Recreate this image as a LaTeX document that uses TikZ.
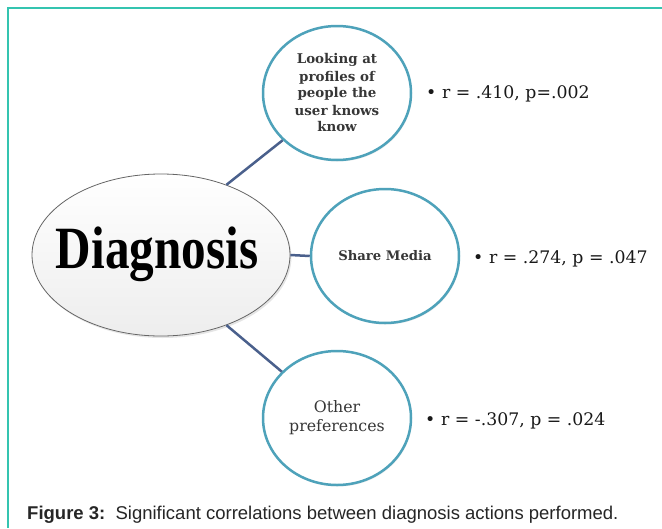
\documentclass[tikz,border=0pt]{standalone}
\usepackage{fontspec}
\setmainfont{Liberation Serif}
\newfontfamily\cfont{DejaVu Serif}
\newfontfamily\capfont{Liberation Sans}
\usetikzlibrary{shapes.geometric,shadows}
\definecolor{frameteal}{RGB}{52,196,176}
\definecolor{circblue}{RGB}{78,162,186}
\definecolor{linkblue}{RGB}{74,96,140}
\definecolor{txtgray}{RGB}{55,55,55}
\tikzset{
  bubble/.style={ellipse, draw=circblue, line width=2.5pt, fill=white, inner sep=0pt,
    minimum width=148pt, minimum height=134pt, align=center, text=txtgray,
    drop shadow={opacity=0.15, shadow xshift=1pt, shadow yshift=-1.5pt}},
  link/.style={draw=linkblue, line width=2.5pt},
  stat/.style={anchor=base west, inner sep=0pt, font=\cfont\fontsize{17.3}{20}\selectfont, text=black!90},
  framel/.style={draw=frameteal, line width=1.5pt}
}
\begin{document}
\begin{tikzpicture}[x=1pt,y=-1pt]
\useasboundingbox (0,0) rectangle (662,528);
\fill[white] (0,0) rectangle (662,528);
\draw[framel] (662,8) -- (8,8) -- (8,528);

\node[ellipse, draw=black!60, line width=0.8pt, inner sep=0pt, minimum width=258pt, minimum height=162pt,
  top color=white, bottom color=black!7,
  drop shadow={opacity=0.2, shadow xshift=1.5pt, shadow yshift=-2pt}] (diag) at (161,255) {};
\node[anchor=base, inner sep=0pt, font=\fontsize{60}{60}\selectfont\bfseries] (diagtxt) at (157,268)
  {\scalebox{0.82}[1]{Diagnosis}};

\node[bubble, font=\cfont\bfseries\fontsize{13.4}{17}\selectfont] (top) at (337,93)
  {Looking at\\profiles of\\people the\\user knows\\know};
\node[bubble, font=\cfont\bfseries\fontsize{13.2}{16}\selectfont] (mid) at (385,256) {Share Media};
\node[bubble, font=\cfont\fontsize{15.8}{19}\selectfont] (bot) at (337,418) {Other\\preferences};

\draw[link] (diag.47) -- (top.221);
\draw[link] (diag.east) -- (mid.west);
\draw[link] (diag.-47) -- (bot.140);

\node[stat] (s1) at (426,98) {\textbullet\,\,r = .410, p=.002};
\node[stat] (s2) at (473,263) {\textbullet\,\,r = .274, p = .047};
\node[stat] (s3) at (425,425) {\textbullet\,\,r = -.307, p = .024};

\node[anchor=base west, inner sep=0pt, font=\capfont\fontsize{18.5}{20}\selectfont, text=black!85] (cap) at (27,519)
  {\textbf{Figure 3:}\ \ Significant correlations between diagnosis actions performed.};
\end{tikzpicture}
\end{document}
